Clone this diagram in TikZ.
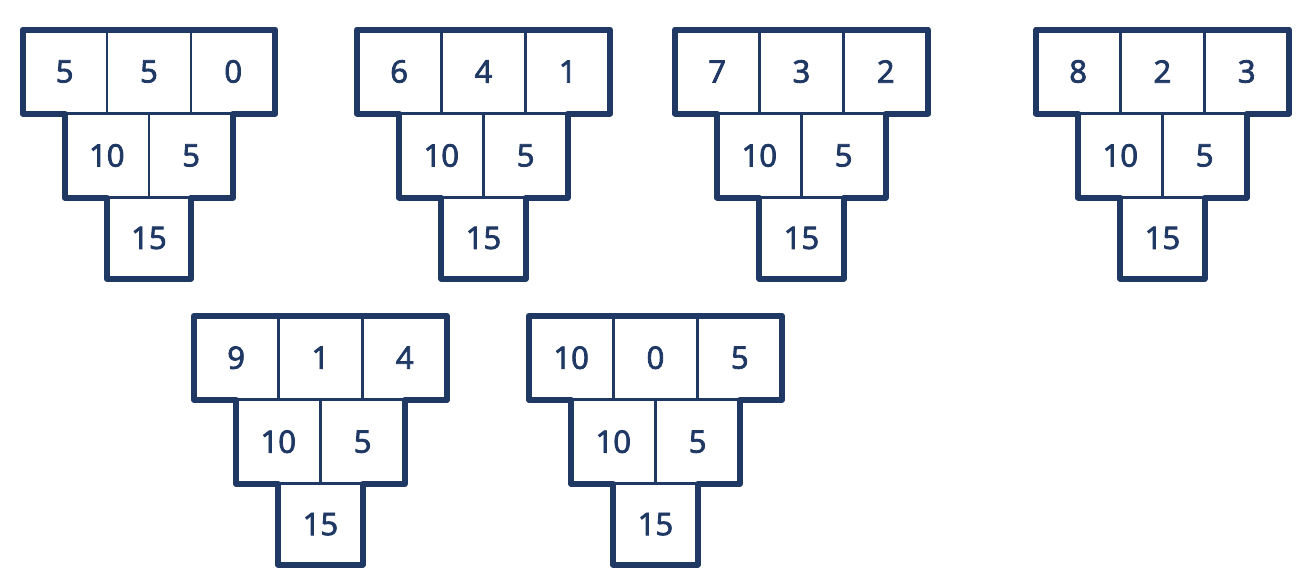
\documentclass[tikz,border=0pt]{standalone}
\usepackage{fontspec}
\newfontfamily\cellfont{Open Sans}[BoldFont={Open Sans},BoldFeatures={FakeBold=2.6}]
\usetikzlibrary{positioning}
\definecolor{navy}{HTML}{1F3864}

\begin{document}
\begin{tikzpicture}[x=1pt,y=-1pt,
	cell/.style={draw=navy,line width=2.5pt,minimum width=84.3pt,minimum height=84pt,
		inner sep=0pt,outer sep=0pt,text=navy,font=\cellfont\fontsize{31}{36}\selectfont\bfseries},
	outline/.style={draw=navy,line width=6pt,line join=round}]

\useasboundingbox (0,0) rectangle (1308,584);

% #1,#2 corner, #3 name, #4 #5 #6 top row
\newcommand{\pyramid}[6]{
	\pgfmathtruncatemacro{\suml}{#4+#5}
	\pgfmathtruncatemacro{\sumr}{#5+#6}
	\pgfmathtruncatemacro{\sumb}{\suml+\sumr}
	\node[cell] (#3t1) at (#1+42.15,#2+42) {#4};
	\node[cell,right=0pt of #3t1] (#3t2) {#5};
	\node[cell,right=0pt of #3t2] (#3t3) {#6};
	\node[cell,anchor=north] (#3m1) at (#3t1.south east) {\suml};
	\node[cell,anchor=north] (#3m2) at (#3t2.south east) {\sumr};
	\node[cell,anchor=north,minimum height=81pt] (#3b) at (#3m1.south east) {\sumb};
	\draw[outline] (#3t1.north west) -- (#3t3.north east) -- (#3t3.south east)
		-- (#3m2.north east) -- (#3m2.south east) -- (#3b.north east)
		-- (#3b.south east) -- (#3b.south west) -- (#3b.north west)
		-- (#3m1.south west) -- (#3m1.north west) -- (#3t1.south west) -- cycle;
}

\pyramid{22.5}{29.5}{p1}{5}{5}{0}
\pyramid{357}{29.5}{p2}{6}{4}{1}
\pyramid{675}{29.5}{p3}{7}{3}{2}
\pyramid{1036}{29.5}{p4}{8}{2}{3}
%\pyramid second row
\pyramid{194}{315.7}{p5}{9}{1}{4}
\pyramid{529}{315.7}{p6}{10}{0}{5}
\end{tikzpicture}
\end{document}
